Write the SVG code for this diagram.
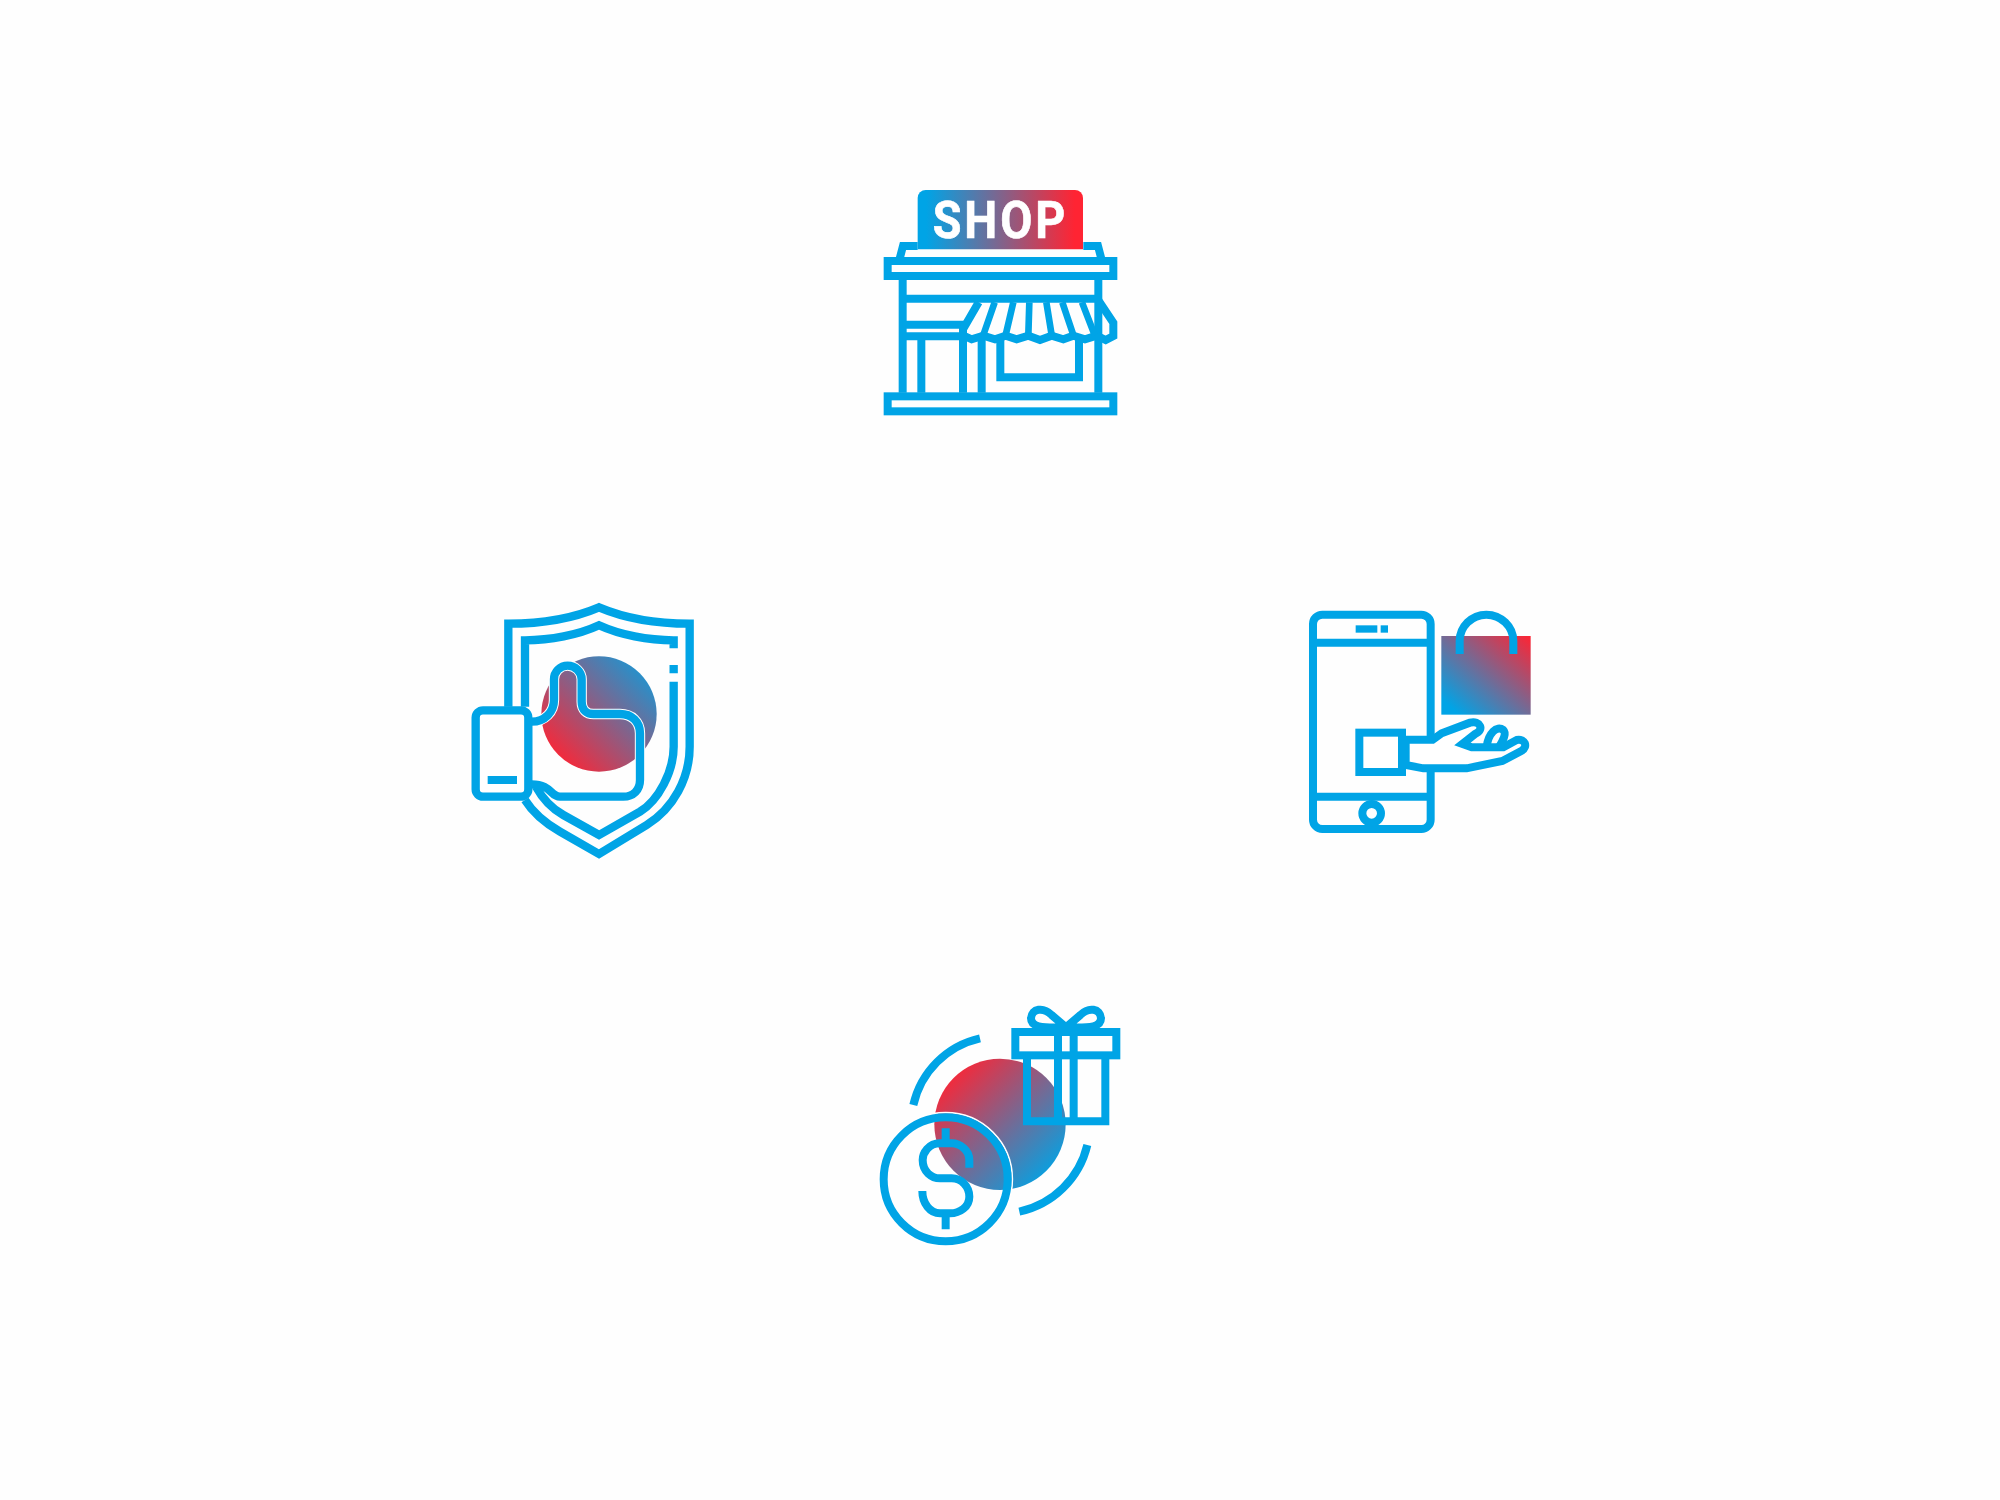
<svg xmlns="http://www.w3.org/2000/svg" width="2000" height="1500" viewBox="0 0 2000 1500">
<style>
.i{fill:none;stroke:#00a4e6;stroke-width:24;stroke-linejoin:miter}
.w{fill:#fff}
.b{fill:#00a4e6;stroke:none}
.h{fill:none;stroke:#fff}
</style>
<defs>
<linearGradient id="gH" x1="0" y1="0" x2="1" y2="0"><stop offset="0.05" stop-color="#00a4e6"/><stop offset="0.95" stop-color="#ff2433"/></linearGradient>
<linearGradient id="gUp" x1="0" y1="1" x2="1" y2="0"><stop offset="0.1" stop-color="#ff2433"/><stop offset="1" stop-color="#00a4e6"/></linearGradient>
<linearGradient id="gBag" x1="0" y1="1" x2="1" y2="0"><stop offset="0.1" stop-color="#00a4e6"/><stop offset="1" stop-color="#ff2433"/></linearGradient>
<linearGradient id="gDn" x1="0" y1="0" x2="1" y2="1"><stop offset="0.1" stop-color="#ff2433"/><stop offset="0.9" stop-color="#00a4e6"/></linearGradient>
</defs>
<rect width="2000" height="1500" fill="#fefefe"/>
<g id="shop" class="i" transform="translate(860 170) scale(.33333)">
<path fill="url(#gH)" stroke="none" d="M173 238V84a24 24 0 0 1 24-24H645a24 24 0 0 1 24 24V238Z"/>
<text x="218" y="205" font-family="Roboto, sans-serif" font-weight="700" font-size="157" letter-spacing="10" textLength="407" lengthAdjust="spacingAndGlyphs" fill="#fff" stroke="#fff" stroke-width="2">SHOP</text>
<path d="M173 228H129L119 266M670 228H714L724 266"/>
<rect x="83" y="273" width="677" height="45"/>
<path d="M128 318V668M715 318V668M128 386H715"/>
<path d="M128 464H318M128 499H318M184 499V668M309 499V668M365 510V668"/>
<path d="M421 510V622H657V510"/>
<path d="M356 397L309 478V496L335 508L370 497L405 508L437 497L470 508L505 497L540 510L575 497L610 508L640 497L675 508L710 497L737 510L760 498V458L716 392"/>
<path stroke-width="20" d="M404 397L370 495M460 397L437 495M508 397L505 495M559 397L575 495M607 397L640 495M666 397L704 495"/>
<rect x="83" y="679" width="677" height="45"/>
</g>
<g id="shield" class="i" transform="translate(450 590) scale(.33333)" style="stroke-width:25">
<circle cx="447" cy="372" r="173" fill="url(#gUp)" stroke="none"/>
<path d="M175 350V101C270 101 370 85 447 52C525 85 625 101 719 101V470C719 565 670 655 590 705L447 792L330 725C285 699 250 670 225 630"/>
<path d="M225 350V151C300 151 385 135 447 106C510 135 595 151 671 151V175M671 225V250M671 275V470C671 545 625 632 570 665L447 735L340 675C310 658 280 630 258 590"/>
<path class="h" stroke-width="31" d="M245 395C285 395 312 365 312 330V268C312 245 330 227 353 227C375 227 395 245 395 268V335C395 360 410 372 430 372H510C545 372 570 395 570 430V570C570 600 550 620 520 620H330"/>
<path d="M245 395C285 395 312 365 312 330V268C312 245 330 227 353 227C375 227 395 245 395 268V335C395 360 410 372 430 372H510C545 372 570 395 570 430V570C570 600 550 620 520 620H330C300 620 305 583 245 583"/>
<rect class="w" x="77" y="361" width="158" height="259" rx="22"/>
<rect class="b" x="113" y="558" width="88" height="24"/>
</g>
<g id="mobile" class="i" transform="translate(1290 590) scale(.33333)">
<rect x="454" y="138" width="268" height="236" fill="url(#gBag)" stroke="none"/>
<path d="M509 192V153C509 110 545 74 589 74C633 74 670 110 670 153V192"/>
<rect x="69" y="74" width="353" height="643" rx="28"/>
<path d="M69 158H422M69 620H422"/>
<rect class="b" x="197" y="106" width="65" height="22"/>
<rect class="b" x="272" y="106" width="22" height="22"/>
<circle cx="245" cy="670" r="28"/>
<path class="w" d="M347 449H428L455 430L540 398C570 390 585 420 555 432L517 462L545 472H640L680 450C705 445 715 470 695 482L637 513L530 535H400L347 525Z"/>
<path d="M590 470C595 430 620 405 640 420C650 430 640 450 628 470"/>
<rect class="w" x="208" y="428" width="128" height="118"/>
</g>
<g id="gift" class="i" transform="translate(860 990) scale(.33333)">
<circle cx="420" cy="403" r="197" fill="url(#gDn)" stroke="none"/>
<path d="M360 145A265 265 0 0 0 160 345M682 465A268 268 0 0 1 478 665"/>
<circle cx="257" cy="568" r="200" class="h" stroke-width="5"/>
<circle cx="257" cy="568" r="186"/>
<path d="M257 415V450M257 680V718"/>
<path d="M328 533V510C328 480 300 460 275 460H240C205 460 188 490 188 510C188 545 215 565 240 565H275C305 565 328 590 328 620C328 650 300 670 270 670H240C210 670 187 640 187 603"/>
<path d="M501 196V394H736V196M594 126V394M641 126V394"/>
<rect x="466" y="126" width="303" height="70"/>
<path d="M618 112L575 75C550 50 515 55 513 85C513 110 540 115 618 112ZM618 112L661 75C686 50 721 55 723 85C723 110 696 115 618 112Z"/>
</g>
</svg>
